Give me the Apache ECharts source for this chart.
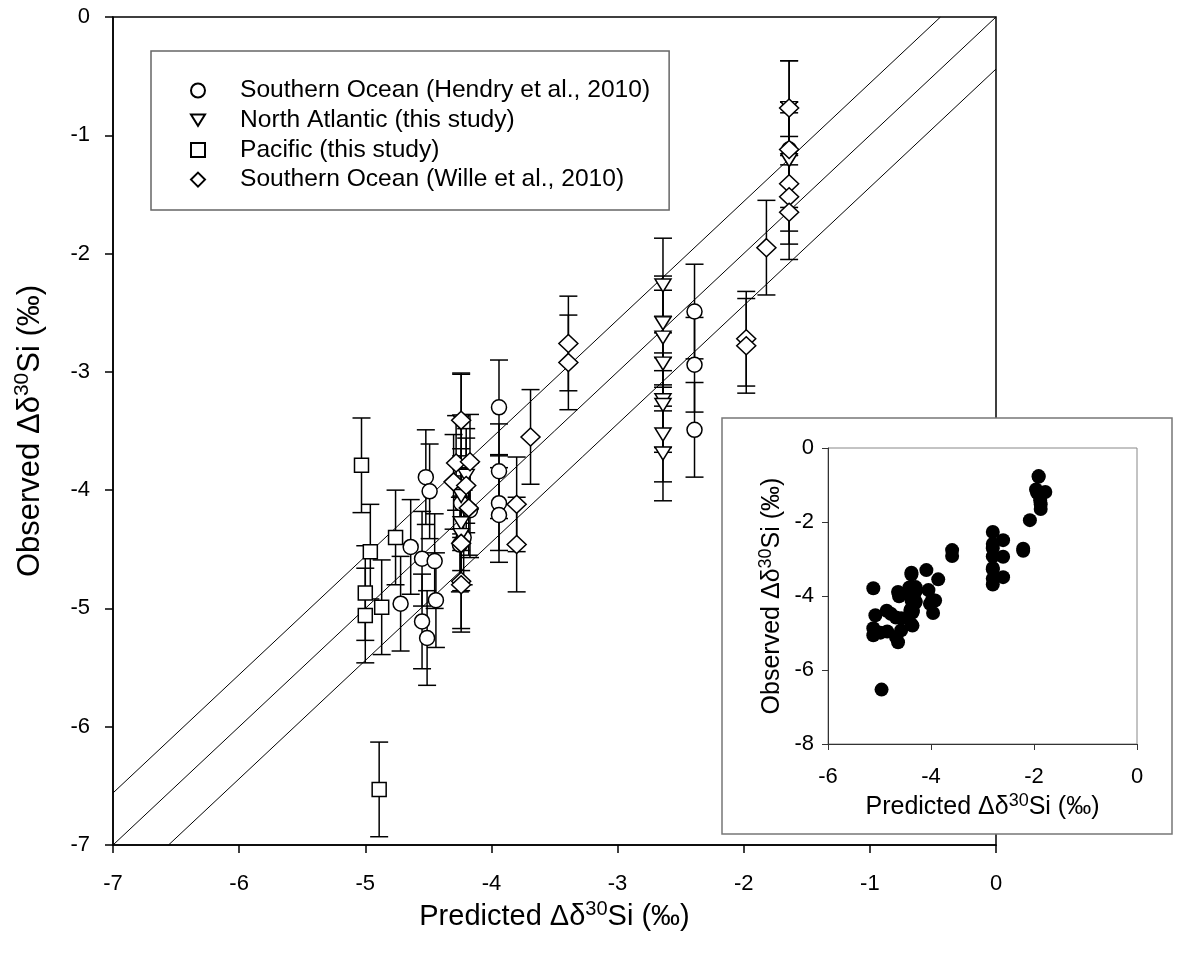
<!DOCTYPE html>
<html>
<head>
<meta charset="utf-8">
<script src="https://cdn.jsdelivr.net/npm/echarts@6/dist/echarts.min.js"></script>
<style>
html,body{margin:0;padding:0;background:#fff;}
#chart{width:1183px;height:955px;}
</style>
</head>
<body>
<div id="chart"></div>
<script>
// ---------------- data (main panel: predicted, observed) ----------------
const hendry = [
  [-4.52,-3.89],[-4.49,-4.01],[-4.64,-4.48],[-4.55,-4.58],[-4.45,-4.60],
  [-4.72,-4.96],[-4.44,-4.93],[-4.55,-5.11],[-4.51,-5.25],
  [-3.94,-3.30],[-3.94,-3.84],[-3.94,-4.11],[-3.94,-4.21],
  [-4.24,-4.11],[-4.17,-4.17],[-4.25,-4.46],[-4.22,-4.40],
  [-2.39,-2.49],[-2.39,-2.94],[-2.39,-3.49],[-1.64,-1.12]
];
const northAtlantic = [
  [-2.64,-2.27],[-2.64,-2.59],[-2.64,-2.71],[-2.64,-2.93],[-2.64,-3.24],
  [-2.64,-3.28],[-2.64,-3.53],[-2.64,-3.69],[-1.64,-1.21],[-1.64,-0.77],
  [-4.24,-3.42],[-4.24,-4.05],[-4.24,-4.28],[-4.24,-4.38],[-4.20,-3.88]
];
const pacific = [
  [-5.03,-3.79],[-5.00,-4.87],[-5.00,-5.06],[-4.96,-4.52],[-4.87,-4.99],
  [-4.76,-4.40],[-4.89,-6.53]
];
const wille = [
  [-1.64,-0.77],[-1.64,-1.12],[-1.64,-1.41],[-1.64,-1.52],[-1.64,-1.65],
  [-1.82,-1.95],[-1.98,-2.72],[-1.98,-2.78],[-3.39,-2.76],[-3.39,-2.92],
  [-3.69,-3.55],[-3.80,-4.12],[-3.80,-4.46],[-4.24,-3.41],[-4.28,-3.77],
  [-4.17,-3.76],[-4.30,-3.93],[-4.20,-3.96],[-4.18,-4.15],[-4.24,-4.45],
  [-4.24,-4.77],[-4.24,-4.80]
];
const errorHalfWidth = 0.4;   // +/- error of observed values (‰)

// reference lines: 1:1 and +/- offset
const lineOneToOne = [[-7,-7],[0,0]];
const lineUpper = [[-7,-6.56],[-0.44,0]];
const lineLower = [[-6.56,-7],[0,-0.44]];

// ---------------- data (inset) ----------------
const insetPoints = [
  [-1.91,-0.76],[-1.91,-0.78],[-1.96,-1.12],[-1.94,-1.21],[-1.78,-1.19],
  [-1.88,-1.41],[-1.87,-1.52],[-1.87,-1.65],[-2.08,-1.95],[-2.21,-2.72],[-2.21,-2.78],
  [-2.80,-2.27],[-2.80,-2.59],[-2.80,-2.71],[-2.80,-2.93],[-2.80,-3.24],
  [-2.80,-3.28],[-2.80,-3.53],[-2.80,-3.69],
  [-2.60,-2.49],[-2.60,-2.94],[-2.60,-3.49],
  [-3.59,-2.76],[-3.59,-2.92],[-3.86,-3.55],
  [-4.09,-3.30],[-4.05,-3.84],[-3.98,-4.11],[-4.02,-4.21],[-3.92,-4.12],[-3.96,-4.46],
  [-4.38,-3.37],[-4.38,-3.42],[-4.42,-3.77],[-4.30,-3.76],[-4.45,-3.93],[-4.33,-3.96],
  [-4.30,-4.15],[-4.36,-4.45],[-4.38,-4.77],[-4.36,-4.80],[-4.38,-4.05],[-4.36,-4.28],
  [-4.40,-4.38],[-4.30,-3.88],[-4.38,-4.11],[-4.30,-4.17],[-4.40,-4.46],[-4.35,-4.40],
  [-4.64,-3.89],[-4.62,-4.01],[-4.78,-4.48],[-4.68,-4.58],[-4.58,-4.60],[-4.85,-4.96],
  [-4.58,-4.93],[-4.68,-5.11],[-4.64,-5.25],
  [-5.12,-3.79],[-5.12,-4.87],[-5.12,-5.06],[-5.08,-4.52],[-4.98,-4.99],[-4.86,-4.40],[-4.96,-6.53]
];

const mainTicks = { min: -7, max: 0, interval: 1 };
const insetXTicks = { min: -6, max: 0, interval: 2 };
const insetYTicks = { min: -8, max: 0, interval: 2 };

const FONT = '"Liberation Sans", Arial, sans-serif';
const triDown = 'path://M0,0 L20,0 L10,16 Z';

function errRender(params, api) {
  const x = api.value(0), y = api.value(1);
  const top = api.coord([x, y + errorHalfWidth]);
  const bot = api.coord([x, y - errorHalfWidth]);
  const hw = 9;
  const st = { stroke: '#000', lineWidth: 1.5 };
  return { type: 'group', children: [
    { type: 'line', shape: { x1: top[0], y1: top[1], x2: bot[0], y2: bot[1] }, style: st },
    { type: 'line', shape: { x1: top[0]-hw, y1: top[1], x2: top[0]+hw, y2: top[1] }, style: st },
    { type: 'line', shape: { x1: bot[0]-hw, y1: bot[1], x2: bot[0]+hw, y2: bot[1] }, style: st }
  ]};
}
function errSeries(name, data) {
  return { type: 'custom', name: name, xAxisIndex: 0, yAxisIndex: 0, data: data,
    encode: { x: 0, y: 1 }, renderItem: errRender, z: 2, silent: true, clip: false };
}
function pointSeries(name, data, symbol, size) {
  return { type: 'scatter', name: name, xAxisIndex: 0, yAxisIndex: 0, data: data,
    symbol: symbol, symbolSize: size, symbolKeepAspect: false, z: 4,
    itemStyle: { color: '#fff', borderColor: '#000', borderWidth: 1.5, opacity: 1 } };
}
function refLine(data) {
  return { type: 'line', data: data, xAxisIndex: 0, yAxisIndex: 0, symbol: 'none',
    lineStyle: { color: '#000', width: 1 }, z: 1, silent: true };
}

const titleRich = (big, sup) => ({
  a: { fontSize: big, fontFamily: FONT, color: '#000', lineHeight: big + 6 },
  s: { fontSize: sup, fontFamily: FONT, color: '#000', verticalAlign: 'top', lineHeight: sup }
});

const chart = echarts.init(document.getElementById('chart'), null, { renderer: 'canvas' });
chart.setOption({
  backgroundColor: '#fff',
  animation: false,
  grid: [
    { left: 113, top: 17, width: 883, height: 828, show: true, borderColor: '#000', borderWidth: 1.5, backgroundColor: 'transparent', containLabel: false },
    { left: 828, top: 448, width: 309, height: 296, show: true, borderColor: '#888', borderWidth: 1, z: 10 }
  ],
  xAxis: [
    { gridIndex: 0, type: 'value', min: mainTicks.min, max: mainTicks.max, interval: mainTicks.interval,
      splitLine: { show: false },
      axisLine: { onZero: false, lineStyle: { color: '#000', width: 1.5 } },
      axisTick: { inside: false, length: 8, lineStyle: { color: '#000', width: 1.5 } },
      axisLabel: { fontSize: 22, fontFamily: FONT, color: '#000', margin: 28 },
      name: '{a|Predicted Δδ}{s|30}{a|Si (‰)}', nameLocation: 'middle', nameGap: 51,
      nameTextStyle: { rich: titleRich(29, 20) } },
    { gridIndex: 1, type: 'value', min: insetXTicks.min, max: insetXTicks.max, interval: insetXTicks.interval, z: 10,
      splitLine: { show: false },
      axisLine: { onZero: false, lineStyle: { color: '#333', width: 1 } },
      axisTick: { inside: false, length: 6, lineStyle: { color: '#333', width: 1 } },
      axisLabel: { fontSize: 22, fontFamily: FONT, color: '#000', margin: 22 },
      name: '{a|Predicted Δδ}{s|30}{a|Si (‰)}', nameLocation: 'middle', nameGap: 48,
      nameTextStyle: { rich: titleRich(25, 18) } }
  ],
  yAxis: [
    { gridIndex: 0, type: 'value', min: mainTicks.min, max: mainTicks.max, interval: mainTicks.interval,
      splitLine: { show: false },
      axisLine: { onZero: false, lineStyle: { color: '#000', width: 1.5 } },
      axisTick: { inside: false, length: 8, lineStyle: { color: '#000', width: 1.5 } },
      axisLabel: { fontSize: 22, fontFamily: FONT, color: '#000', margin: 23 },
      name: '{a|Observed Δδ}{s|30}{a|Si (‰)}', nameLocation: 'middle', nameGap: 64,
      nameTextStyle: { rich: titleRich(31, 21) } },
    { gridIndex: 1, type: 'value', min: insetYTicks.min, max: insetYTicks.max, interval: insetYTicks.interval, z: 10,
      splitLine: { show: false },
      axisLine: { onZero: false, lineStyle: { color: '#333', width: 1 } },
      axisTick: { inside: false, length: 6, lineStyle: { color: '#333', width: 1 } },
      axisLabel: { fontSize: 22, fontFamily: FONT, color: '#000', margin: 14 },
      name: '{a|Observed Δδ}{s|30}{a|Si (‰)}', nameLocation: 'middle', nameGap: 40,
      nameTextStyle: { rich: titleRich(25, 18) } }
  ],
  legend: {
    data: ['Southern Ocean (Hendry et al., 2010)', 'North Atlantic (this study)', 'Pacific (this study)', 'Southern Ocean (Wille et al., 2010)'],
    orient: 'vertical', left: 151, top: 51,
    padding: [27, 19, 18, 39],
    itemWidth: 14, itemHeight: 14, itemGap: 4.7,
    borderColor: '#666', borderWidth: 1.5, backgroundColor: '#fff',
    textStyle: { fontSize: 24.6, fontFamily: FONT, color: '#000', padding: [0, 0, 0, 30], lineHeight: 24 },
    selectedMode: false, z: 6
  },
  graphic: [
    { type: 'rect', shape: { x: 722, y: 418, width: 450, height: 416 },
      style: { fill: '#fff', stroke: '#777', lineWidth: 1.5 }, z: 5, silent: true }
  ],
  series: [
    refLine(lineOneToOne), refLine(lineUpper), refLine(lineLower),
    errSeries('errH', hendry), errSeries('errN', northAtlantic), errSeries('errP', pacific), errSeries('errW', wille),
    pointSeries('Southern Ocean (Hendry et al., 2010)', hendry, 'circle', 15),
    pointSeries('North Atlantic (this study)', northAtlantic, triDown, [16, 13]),
    pointSeries('Pacific (this study)', pacific, 'rect', 14),
    pointSeries('Southern Ocean (Wille et al., 2010)', wille, 'diamond', [19, 18]),
    { type: 'scatter', name: 'inset', xAxisIndex: 1, yAxisIndex: 1, data: insetPoints,
      symbol: 'circle', symbolSize: 14, z: 12, itemStyle: { color: '#000', opacity: 1 } }
  ]
});
</script>
</body>
</html>
